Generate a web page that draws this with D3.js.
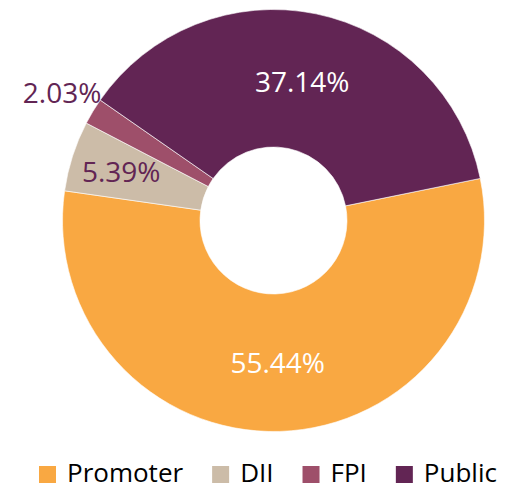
<!DOCTYPE html>
<html>
<head>
<meta charset="utf-8">
<script src="https://cdn.jsdelivr.net/npm/d3@7"></script>
<style>
  html, body { margin: 0; padding: 0; background: #fff; }
  svg { display: block; }
</style>
</head>
<body>
<svg id="chart" width="508" height="489"></svg>
<script>
const categories = ["Promoter", "DII", "FPI", "Public"];
const values = [55.44, 5.39, 2.03, 37.14];
const labels = ["55.44%", "5.39%", "2.03%", "37.14%"];
const colors = ["#F9A842", "#CCBCA8", "#9E4F6A", "#622554"];
const labelColors = ["#FFFFFF", "#622554", "#622554", "#FFFFFF"];
const labelRadii = [142, 160, 247, 142];

const W = 508, H = 489;
const cx = 273.5, cy = 220.5, outerR = 211, innerR = 73.5;
const svg = d3.select("#chart");
const font = "'Open Sans', 'Noto Sans', sans-serif";

const pie = d3.pie().sort(null).value(d => d)
  .startAngle(78.5 * Math.PI / 180)
  .endAngle(78.5 * Math.PI / 180 + 2 * Math.PI);
const arcs = pie(values);
const arc = d3.arc().innerRadius(innerR).outerRadius(outerR);

const g = svg.append("g").attr("transform", `translate(${cx},${cy})`);
g.selectAll("path.slice").data(arcs).enter().append("path")
  .attr("class", "slice")
  .attr("d", arc)
  .attr("fill", (d, i) => colors[i])
  .attr("stroke", "#fff")
  .attr("stroke-width", 0.6);

g.selectAll("text.lbl").data(arcs).enter().append("text")
  .attr("class", "lbl")
  .attr("transform", (d, i) => {
    const c = d3.arc().innerRadius(labelRadii[i]).outerRadius(labelRadii[i]).centroid(d);
    return `translate(${c[0]},${c[1]})`;
  })
  .attr("text-anchor", "middle")
  .attr("dy", "0.36em")
  .attr("font-family", font)
  .attr("font-size", 28)
  .attr("fill", (d, i) => labelColors[i])
  .text((d, i) => labels[i]);

// Legend
const legend = svg.append("g");
let x = 39;
const sq = 17, legY = 466, textY = 482;
categories.forEach((c, i) => {
  legend.append("rect").attr("x", x).attr("y", legY).attr("width", sq).attr("height", sq).attr("fill", colors[i]);
  const t = legend.append("text").attr("x", x + sq + 11).attr("y", textY)
    .attr("font-family", font).attr("font-size", 26).attr("fill", "#000").text(c);
  x = x + sq + 11 + t.node().getComputedTextLength() + 29;
});
</script>
</body>
</html>
